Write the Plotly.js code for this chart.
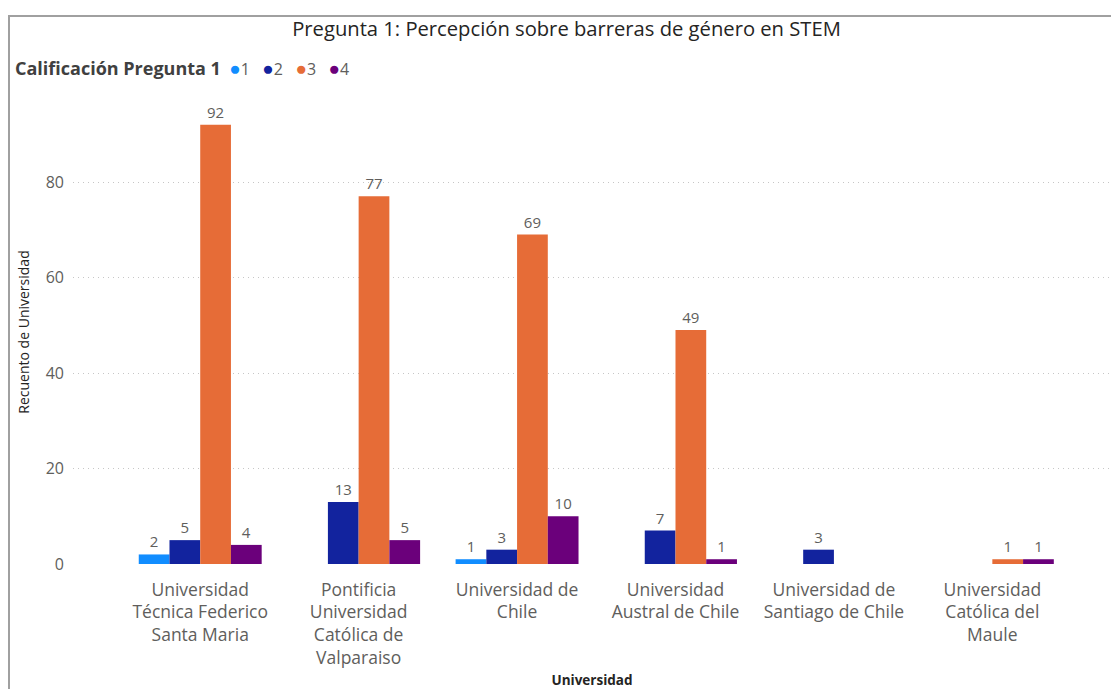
<!DOCTYPE html>
<html><head><meta charset="utf-8">
<script src="https://cdn.plot.ly/plotly-3.0.1.min.js"></script>
<style>html,body{margin:0;padding:0;background:#fff}#chart{width:1111px;height:689px}</style>
</head><body><div id="chart"></div>
<script>
const categories = ["Universidad Técnica Federico Santa Maria", "Pontificia Universidad Católica de Valparaiso", "Universidad de Chile", "Universidad Austral de Chile", "Universidad de Santiago de Chile", "Universidad Católica del Maule"];
const tickLabels = ["Universidad<br>Técnica Federico<br>Santa Maria", "Pontificia<br>Universidad<br>Católica de<br>Valparaiso", "Universidad de<br>Chile", "Universidad<br>Austral de Chile", "Universidad de<br>Santiago de Chile", "Universidad<br>Católica del<br>Maule"];
const seriesNames = ["1", "2", "3", "4"];
const seriesColors = ["#118DFF", "#12239E", "#E66C37", "#6B007B"];
const calif1 = [2, null, 1, null, null, null];
const calif2 = [5, 13, 3, 7, 3, null];
const calif3 = [92, 77, 69, 49, null, 1];
const calif4 = [4, 5, 10, 1, null, 1];
const yTicks = [0, 20, 40, 60, 80];
const legendTitle = "Calificación Pregunta 1";

const seriesValues = [calif1, calif2, calif3, calif4];
const baseFont = "'Segoe UI', 'Open Sans', sans-serif";
const titleFont = "'DIN', 'Open Sans', sans-serif";

const traces = seriesValues.map((vals, i) => ({
  type: 'bar', name: seriesNames[i], x: categories, y: vals,
  marker: {color: seriesColors[i]},
  text: vals.map(v => v == null ? '' : String(v)),
  textposition: 'outside', cliponaxis: false,
  textfont: {family: baseFont, size: 15, color: '#605E5C'},
  hoverinfo: 'x+y+name'
}));

const L = 73, R = 0, T = 100, B = 125, W = 1111, H = 689;
const pw = W - L - R, ph = H - T - B;
const px = v => (v - L) / pw;
const py = v => (H - B - v) / ph;

// Legend drawn as text, built from series names & colours
const legendText = '<span style="font-weight:bold;color:#404040;font-size:18px">' + legendTitle + '</span>  ' +
  seriesNames.map((n, i) => '<span style="color:' + seriesColors[i] + ';font-size:19px">●</span>' + n).join('   ');

const layout = {
  width: W, height: H,
  margin: {l: L, r: R, t: T, b: B, pad: 0},
  paper_bgcolor: '#ffffff', plot_bgcolor: '#ffffff',
  font: {family: baseFont, color: '#605E5C'},
  barmode: 'group', bargap: 0.224, bargroupgap: 0,
  showlegend: false,
  title: {text: 'Pregunta 1: Percepción sobre barreras de género en STEM',
          font: {family: titleFont, size: 20.2, color: '#252423'},
          xref: 'container', x: 566.5 / W, xanchor: 'center', yref: 'container', y: 1 - 29 / H, yanchor: 'middle'},
  xaxis: {type: 'category', range: [-0.803, 5.749], tickmode: 'array',
          tickvals: categories, ticktext: tickLabels, ticks: '', showgrid: false,
          zeroline: false, showline: false, ticklabelstandoff: 13,
          tickfont: {family: baseFont, size: 17.5, color: '#605E5C'},
          title: {text: '<b>Universidad</b>', font: {family: baseFont, size: 13.5, color: '#252423'}, standoff: 14}},
  yaxis: {range: [0, (H - B - T) / 4.775], tickmode: 'array', tickvals: yTicks,
          showgrid: true, gridcolor: '#C6C6C6', griddash: '1px,4px', gridwidth: 1,
          zeroline: false, showline: false, ticks: '', ticklabelstandoff: 8,
          tickfont: {family: baseFont, size: 16, color: '#605E5C'},
          title: {text: 'Recuento de Universidad', font: {family: baseFont, size: 14, color: '#252423'}, standoff: 12}},
  annotations: [
    {xref: 'paper', yref: 'paper', x: px(13), y: py(68), xanchor: 'left', yanchor: 'middle',
     text: legendText, showarrow: false, align: 'left',
     font: {family: baseFont, size: 16, color: '#605E5C'}}
  ],
  shapes: [
    {type: 'line', xref: 'paper', yref: 'paper', x0: px(8), x1: px(1111), y0: py(16), y1: py(16), line: {color: '#A0A0A0', width: 2}},
    {type: 'line', xref: 'paper', yref: 'paper', x0: px(9), x1: px(9), y0: py(15), y1: py(689), line: {color: '#A0A0A0', width: 2}}
  ]
};
Plotly.newPlot('chart', traces, layout, {displayModeBar: false});
</script></body></html>
